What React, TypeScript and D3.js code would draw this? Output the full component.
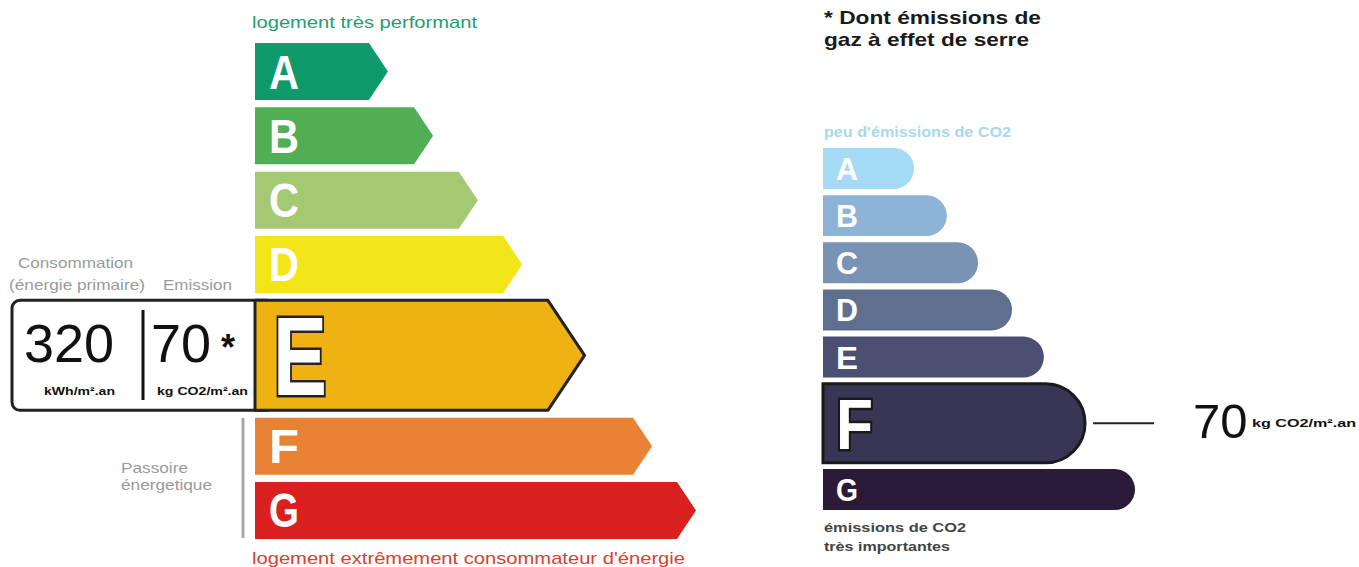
import * as d3 from 'd3';

// Energy label (DPE) values
const energyClasses = ['A', 'B', 'C', 'D', 'E', 'F', 'G'];
const energyColors = ['#0f9a6b', '#52ae54', '#a4c972', '#f2e519', '#efb213', '#ea8235', '#d8211f'];
const energyLengths = [2.7, 3.77, 4.83, 5.88, 6.94, 8.96, 10];
const energyClass = 'E';
const energyValue = 320;
const energyUnit = 'kWh/m².an';

// Greenhouse gas label values
const climateClasses = ['A', 'B', 'C', 'D', 'E', 'F', 'G'];
const climateColors = ['#a5daf4', '#8db3d6', '#7893b3', '#5e6f90', '#4b4f72', '#393554', '#2b1a38'];
const climateLengths = [2.92, 3.97, 4.97, 6.06, 7.08, 8.4, 10];
const climateClass = 'F';
const emissionValue = 70;
const emissionUnit = 'kg CO2/m².an';

const WIDTH = 1359;
const HEIGHT = 567;
const FONT = "'Liberation Sans', Arial, sans-serif";

// stack rows: normal rows weigh 1, the highlighted one weighs `big`
function rowLayout(classes: string[], active: string, big: number, gap: number, range: [number, number]) {
  const units = classes.map((c) => (c === active ? big : 1));
  const total = d3.sum(units) + gap * (classes.length - 1);
  const y = d3.scaleLinear().domain([0, total]).range(range);
  let acc = 0;
  return classes.map((c, i) => {
    const top = y(acc);
    const bottom = y(acc + units[i]);
    acc += units[i] + gap;
    return { cls: c, top, height: bottom - top };
  });
}

function arrowPath(x0: number, x1: number, top: number, h: number) {
  const tip = h / 3;
  return `M${x0},${top}H${x1}L${x1 + tip},${top + h / 2}L${x1},${top + h}H${x0}Z`;
}

function pillPath(x0: number, x1: number, top: number, h: number) {
  const r = h / 2;
  return `M${x0},${top}H${x1 - r}A${r},${r} 0 0 1 ${x1 - r},${top + h}H${x0}Z`;
}

export default function App() {
  // ---- energy chart
  const eX0 = 255;
  const eScale = d3.scaleLinear().domain([0, 10]).range([0, 422]);
  const eRows = rowLayout(energyClasses, energyClass, 1.93, 0.128, [43, 539]);
  const eActive = eRows.find((r) => r.cls === energyClass)!;

  // ---- climate chart
  const cX0 = 823;
  const cScale = d3.scaleLinear().domain([0, 10]).range([0, 312]);
  const cRows = rowLayout(climateClasses, climateClass, 1.93, 0.151, [148, 510]);
  const cActive = cRows.find((r) => r.cls === climateClass)!;
  const cActiveEnd = cX0 + cScale(climateLengths[climateClasses.indexOf(climateClass)]);
  const cMid = cActive.top + cActive.height / 2;

  const grey = '#9a9a9a';

  return (
    <svg
      width={WIDTH}
      height={HEIGHT}
      style={{ position: 'absolute', left: 0, top: 0, background: '#fff' }}
      fontFamily={FONT}
    >
      {/* ===== Left: energy ===== */}
      <text x={252} y={28} fontSize={17} fill="#1f9e74" textLength={225} lengthAdjust="spacingAndGlyphs">
        logement très performant
      </text>

      <text x={18} y={268} fontSize={15} fill={grey} textLength={115} lengthAdjust="spacingAndGlyphs">
        Consommation
      </text>
      <text x={9} y={290} fontSize={15} fill={grey} textLength={136} lengthAdjust="spacingAndGlyphs">
        (énergie primaire)
      </text>
      <text x={163} y={290} fontSize={15} fill={grey} textLength={69} lengthAdjust="spacingAndGlyphs">
        Emission
      </text>

      {/* value box */}
      <rect
        x={12}
        y={eActive.top}
        width={eX0 - 12 + 20}
        height={eActive.height}
        rx={8}
        fill="#fff"
        stroke="#222"
        strokeWidth={3}
      />
      <text x={24} y={362} fontSize={54} fill="#111">{energyValue}</text>
      <line x1={143} x2={143} y1={310} y2={400} stroke="#111" strokeWidth={3} />
      <text x={151} y={362} fontSize={54} fill="#111">{emissionValue}</text>
      <text x={221} y={360} fontSize={36} fontWeight="bold" fill="#111">*</text>
      <text x={44} y={395} fontSize={11} fontWeight="bold" fill="#111" textLength={71} lengthAdjust="spacingAndGlyphs">
        {energyUnit}
      </text>
      <text x={157} y={395} fontSize={11} fontWeight="bold" fill="#111" textLength={91} lengthAdjust="spacingAndGlyphs">
        {emissionUnit}
      </text>

      {eRows.map((r, i) => {
        const active = r.cls === energyClass;
        const x1 = eX0 + eScale(energyLengths[i]);
        const capH = active ? 80 : 34;
        const fs = capH / 0.72;
        return (
          <g key={r.cls}>
            <path
              d={arrowPath(eX0, x1, r.top, r.height)}
              fill={energyColors[i]}
              stroke={active ? '#222' : 'none'}
              strokeWidth={3}
              strokeLinejoin="round"
            />
            <text
              x={active ? 273 : 269}
              y={r.top + r.height / 2 + capH / 2}
              fontSize={fs}
              fontWeight="bold"
              fill="#fff"
              stroke={active ? '#222' : 'none'}
              strokeWidth={active ? 5 : 0}
              paintOrder="stroke"
              textLength={active ? 54 : 30}
              lengthAdjust="spacingAndGlyphs"
            >
              {r.cls}
            </text>
          </g>
        );
      })}

      <line x1={243} x2={243} y1={418} y2={538} stroke="#a8a8a8" strokeWidth={3} />
      <text x={121} y={473} fontSize={15} fill={grey} textLength={67} lengthAdjust="spacingAndGlyphs">
        Passoire
      </text>
      <text x={121} y={490} fontSize={15} fill={grey} textLength={91} lengthAdjust="spacingAndGlyphs">
        énergetique
      </text>

      <text x={252} y={564} fontSize={17} fill="#d9402f" textLength={433} lengthAdjust="spacingAndGlyphs">
        logement extrêmement consommateur d'énergie
      </text>

      {/* ===== Right: greenhouse gas ===== */}
      <text x={824} y={24} fontSize={19} fontWeight="bold" fill="#1a1a1a" textLength={217} lengthAdjust="spacingAndGlyphs">
        * Dont émissions de
      </text>
      <text x={824} y={46} fontSize={19} fontWeight="bold" fill="#1a1a1a" textLength={205} lengthAdjust="spacingAndGlyphs">
        gaz à effet de serre
      </text>

      <text x={824} y={137} fontSize={14} fontWeight="bold" fill="#a8d8f0" textLength={187} lengthAdjust="spacingAndGlyphs">
        peu d'émissions de CO2
      </text>

      {cRows.map((r, i) => {
        const active = r.cls === climateClass;
        const x1 = cX0 + cScale(climateLengths[i]);
        const capH = active ? 51 : 23;
        return (
          <g key={r.cls}>
            <path
              d={pillPath(cX0, x1, r.top, r.height)}
              fill={climateColors[i]}
              stroke={active ? '#1a1a1a' : 'none'}
              strokeWidth={3}
            />
            <text
              x={836}
              y={r.top + r.height / 2 + capH / 2}
              fontSize={capH / 0.72}
              fontWeight="bold"
              fill="#fff"
              stroke={active ? '#1a1a1a' : 'none'}
              strokeWidth={active ? 5 : 0}
              paintOrder="stroke"
              textLength={active ? 37 : 22}
              lengthAdjust="spacingAndGlyphs"
            >
              {r.cls}
            </text>
          </g>
        );
      })}

      <text x={824} y={532} fontSize={13} fontWeight="bold" fill="#444" textLength={142} lengthAdjust="spacingAndGlyphs">
        émissions de CO2
      </text>
      <text x={824} y={551} fontSize={13} fontWeight="bold" fill="#444" textLength={126} lengthAdjust="spacingAndGlyphs">
        très importantes
      </text>

      {/* value callout */}
      <line x1={cActiveEnd + 8} x2={cActiveEnd + 69} y1={cMid} y2={cMid} stroke="#222" strokeWidth={2} />
      <text x={1193} y={438} fontSize={49} fill="#111">{emissionValue}</text>
      <text x={1252} y={427} fontSize={11} fontWeight="bold" fill="#111" textLength={104} lengthAdjust="spacingAndGlyphs">
        {emissionUnit}
      </text>
    </svg>
  );
}
